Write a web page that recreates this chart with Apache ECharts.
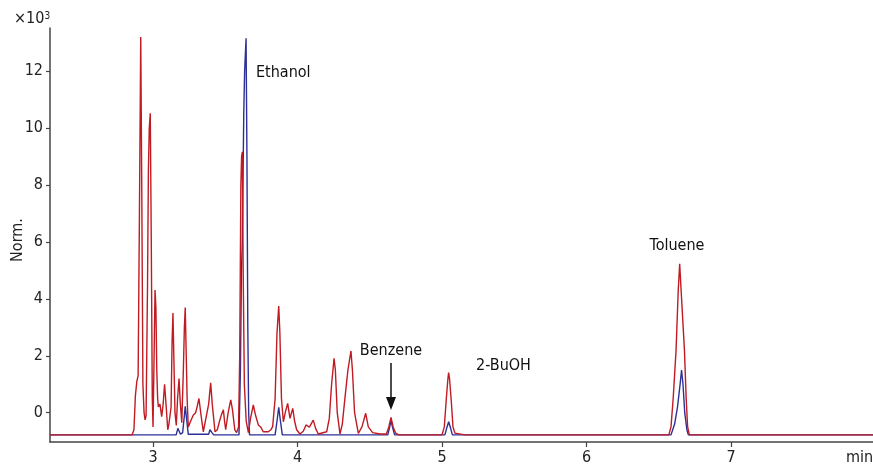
<!DOCTYPE html>
<html>
<head>
<meta charset="utf-8">
<script src="https://cdn.jsdelivr.net/npm/echarts@6/dist/echarts.min.js"></script>
<style>html,body{margin:0;padding:0;background:#fff}#c{width:873px;height:469px}</style>
</head>
<body>
<div id="c"></div>
<script>
// ---- data (time in min, signal in ×10^3) ----
const xTicks = [3, 4, 5, 6, 7];
const yTicks = [0, 2, 4, 6, 8, 10, 12];
const redTrace = [
  [2.287,-0.78],[2.855,-0.78],[2.868,-0.6],[2.878,0.6],[2.888,1.1],[2.897,1.3],[2.906,7.0],[2.915,13.2],[2.922,8.0],[2.930,1.0],[2.938,0.0],[2.945,-0.25],
  [2.952,-0.1],[2.962,4.5],[2.968,8.5],[2.974,10.0],[2.981,10.52],[2.988,6.0],[2.995,0.5],[3.0,-0.5],[3.006,1.5],[3.014,4.31],[3.02,3.7],[3.026,1.5],
  [3.032,0.5],[3.037,0.2],[3.048,0.3],[3.060,-0.14],[3.070,0.3],[3.080,1.0],[3.090,0.3],[3.102,-0.6],[3.110,-0.4],[3.125,0.2],[3.132,2.5],[3.138,3.5],
  [3.144,2.0],[3.152,0.0],[3.161,-0.45],[3.170,0.5],[3.180,1.2],[3.188,0.4],[3.199,-0.35],[3.210,1.5],[3.217,3.0],[3.223,3.7],[3.230,2.0],[3.236,0.5],
  [3.244,-0.5],[3.26,-0.3],[3.279,-0.08],[3.295,0.0],[3.305,0.2],[3.318,0.5],[3.33,0.0],[3.348,-0.67],[3.36,-0.6],[3.385,0.3],[3.399,1.05],[3.41,0.3],
  [3.429,-0.67],[3.445,-0.6],[3.46,-0.3],[3.475,-0.05],[3.487,0.1],[3.495,-0.3],[3.503,-0.6],[3.52,0.0],[3.538,0.45],[3.55,0.1],[3.566,-0.6],[3.579,-0.7],
  [3.592,-0.5],[3.600,2.0],[3.608,8.0],[3.613,9.0],[3.618,9.17],[3.624,5.0],[3.632,1.0],[3.645,-0.3],[3.660,-0.7],[3.675,-0.2],[3.694,0.27],[3.710,-0.1],
  [3.729,-0.43],[3.745,-0.5],[3.763,-0.67],[3.798,-0.67],[3.815,-0.6],[3.828,-0.49],[3.845,0.5],[3.858,2.8],[3.870,3.75],[3.878,2.8],[3.889,0.5],[3.902,-0.32],
  [3.915,0.0],[3.932,0.33],[3.948,-0.2],[3.967,0.15],[3.98,-0.3],[3.994,-0.6],[4.017,-0.75],[4.04,-0.65],[4.059,-0.43],[4.082,-0.51],[4.109,-0.26],[4.125,-0.55],
  [4.144,-0.75],[4.202,-0.67],[4.22,-0.2],[4.236,1.0],[4.253,1.91],[4.262,1.5],[4.275,0.0],[4.294,-0.75],[4.31,-0.4],[4.33,0.6],[4.349,1.5],[4.370,2.17],
  [4.38,1.5],[4.395,0.0],[4.421,-0.73],[4.446,-0.5],[4.472,-0.02],[4.49,-0.5],[4.52,-0.7],[4.571,-0.75],[4.615,-0.75],[4.632,-0.5],[4.647,-0.17],[4.662,-0.5],
  [4.68,-0.72],[4.70,-0.78],[5.0,-0.78],[5.016,-0.5],[5.03,0.5],[5.041,1.2],[5.046,1.41],[5.052,1.2],[5.063,0.5],[5.076,-0.5],[5.09,-0.72],[5.16,-0.78],
  [6.570,-0.78],[6.585,-0.5],[6.60,0.5],[6.620,2.2],[6.635,4.3],[6.645,5.23],[6.655,4.3],[6.678,2.2],[6.69,0.5],[6.70,-0.5],[6.712,-0.78],[7.983,-0.78]
];
const blueTrace = [
  [2.287,-0.78],[3.160,-0.78],[3.172,-0.55],[3.180,-0.6],[3.19,-0.76],[3.205,-0.7],[3.215,-0.2],[3.223,0.22],[3.232,-0.2],[3.244,-0.76],[3.385,-0.76],
  [3.394,-0.6],[3.399,-0.55],[3.408,-0.7],[3.42,-0.78],[3.595,-0.78],[3.605,1.5],[3.612,5.0],[3.618,6.0],[3.628,10.5],[3.634,12.0],[3.644,13.16],
  [3.650,9.0],[3.656,3.0],[3.662,0.0],[3.668,-0.78],[3.845,-0.78],[3.858,-0.3],[3.870,0.19],[3.882,-0.3],[3.895,-0.78],[4.625,-0.78],[4.638,-0.5],
  [4.647,-0.28],[4.657,-0.5],[4.672,-0.78],[5.02,-0.78],[5.035,-0.5],[5.046,-0.32],[5.057,-0.5],[5.072,-0.78],[6.585,-0.78],[6.61,-0.4],[6.63,0.2],
  [6.648,1.0],[6.658,1.5],[6.668,1.0],[6.68,0.0],[6.695,-0.6],[6.705,-0.78],[7.983,-0.78]
];
const peakLabels = ['Ethanol', 'Benzene', '2-BuOH', 'Toluene'];

const FONT = '"DejaVu Sans Condensed", "Liberation Sans Narrow", Arial, sans-serif';
const chart = echarts.init(document.getElementById('c'), null, {renderer: 'canvas'});
chart.setOption({
  animation: false,
  backgroundColor: '#fff',
  grid: {left: 50, right: 0, top: 28, bottom: 27},
  xAxis: {
    type: 'value', min: 2.287, max: 7.983,
    splitLine: {show: false},
    axisLine: {onZero: false, lineStyle: {color: '#444', width: 1.5}},
    axisTick: {show: true, length: 5, customValues: xTicks, lineStyle: {color: '#444', width: 1.2}},
    axisLabel: {customValues: xTicks, margin: 8, fontSize: 16, color: '#222', fontFamily: FONT}
  },
  yAxis: {
    type: 'value', min: -1.03, max: 13.52,
    splitLine: {show: false},
    axisLine: {show: true, onZero: false, lineStyle: {color: '#444', width: 1.5}},
    axisTick: {show: true, length: 4, customValues: yTicks, lineStyle: {color: '#444', width: 1.2}},
    axisLabel: {customValues: yTicks, margin: 7, fontSize: 16, color: '#222', fontFamily: FONT}
  },
  series: [
    {type: 'line', data: blueTrace, showSymbol: false, lineStyle: {color: '#2c2f96', width: 1.4}, z: 2},
    {type: 'line', data: redTrace, showSymbol: false, lineStyle: {color: '#c01a22', width: 1.4}, z: 3}
  ],
  graphic: [
    {type: 'text', left: 14, top: 11, style: {text: '×10{s|3}', font: '16px ' + FONT, fill: '#222',
      rich: {s: {fontSize: 10, verticalAlign: 'top', fontFamily: FONT, fill: '#222', padding: [0,0,6,0]}}}},
    {type: 'text', x: 18, y: 240, rotation: Math.PI / 2, style: {text: 'Norm.', font: '16px ' + FONT, fill: '#222', align: 'center', verticalAlign: 'middle'}},
    {type: 'text', x: 846, y: 458, style: {text: 'min', font: '16px ' + FONT, fill: '#222', align: 'left', verticalAlign: 'middle'}},
    {type: 'text', x: 256, y: 73, style: {text: peakLabels[0], font: '16px ' + FONT, fill: '#111', align: 'left', verticalAlign: 'middle'}},
    {type: 'text', x: 391, y: 351, style: {text: peakLabels[1], font: '16px ' + FONT, fill: '#111', align: 'center', verticalAlign: 'middle'}},
    {type: 'text', x: 476, y: 366, style: {text: peakLabels[2], font: '16px ' + FONT, fill: '#111', align: 'left', verticalAlign: 'middle'}},
    {type: 'text', x: 677, y: 246, style: {text: peakLabels[3], font: '16px ' + FONT, fill: '#111', align: 'center', verticalAlign: 'middle'}},
    {type: 'line', shape: {x1: 391, y1: 363, x2: 391, y2: 400}, style: {stroke: '#111', lineWidth: 1.5}},
    {type: 'polygon', shape: {points: [[386, 397], [396, 397], [391, 410]]}, style: {fill: '#111'}}
  ]
});
</script>
</body>
</html>
